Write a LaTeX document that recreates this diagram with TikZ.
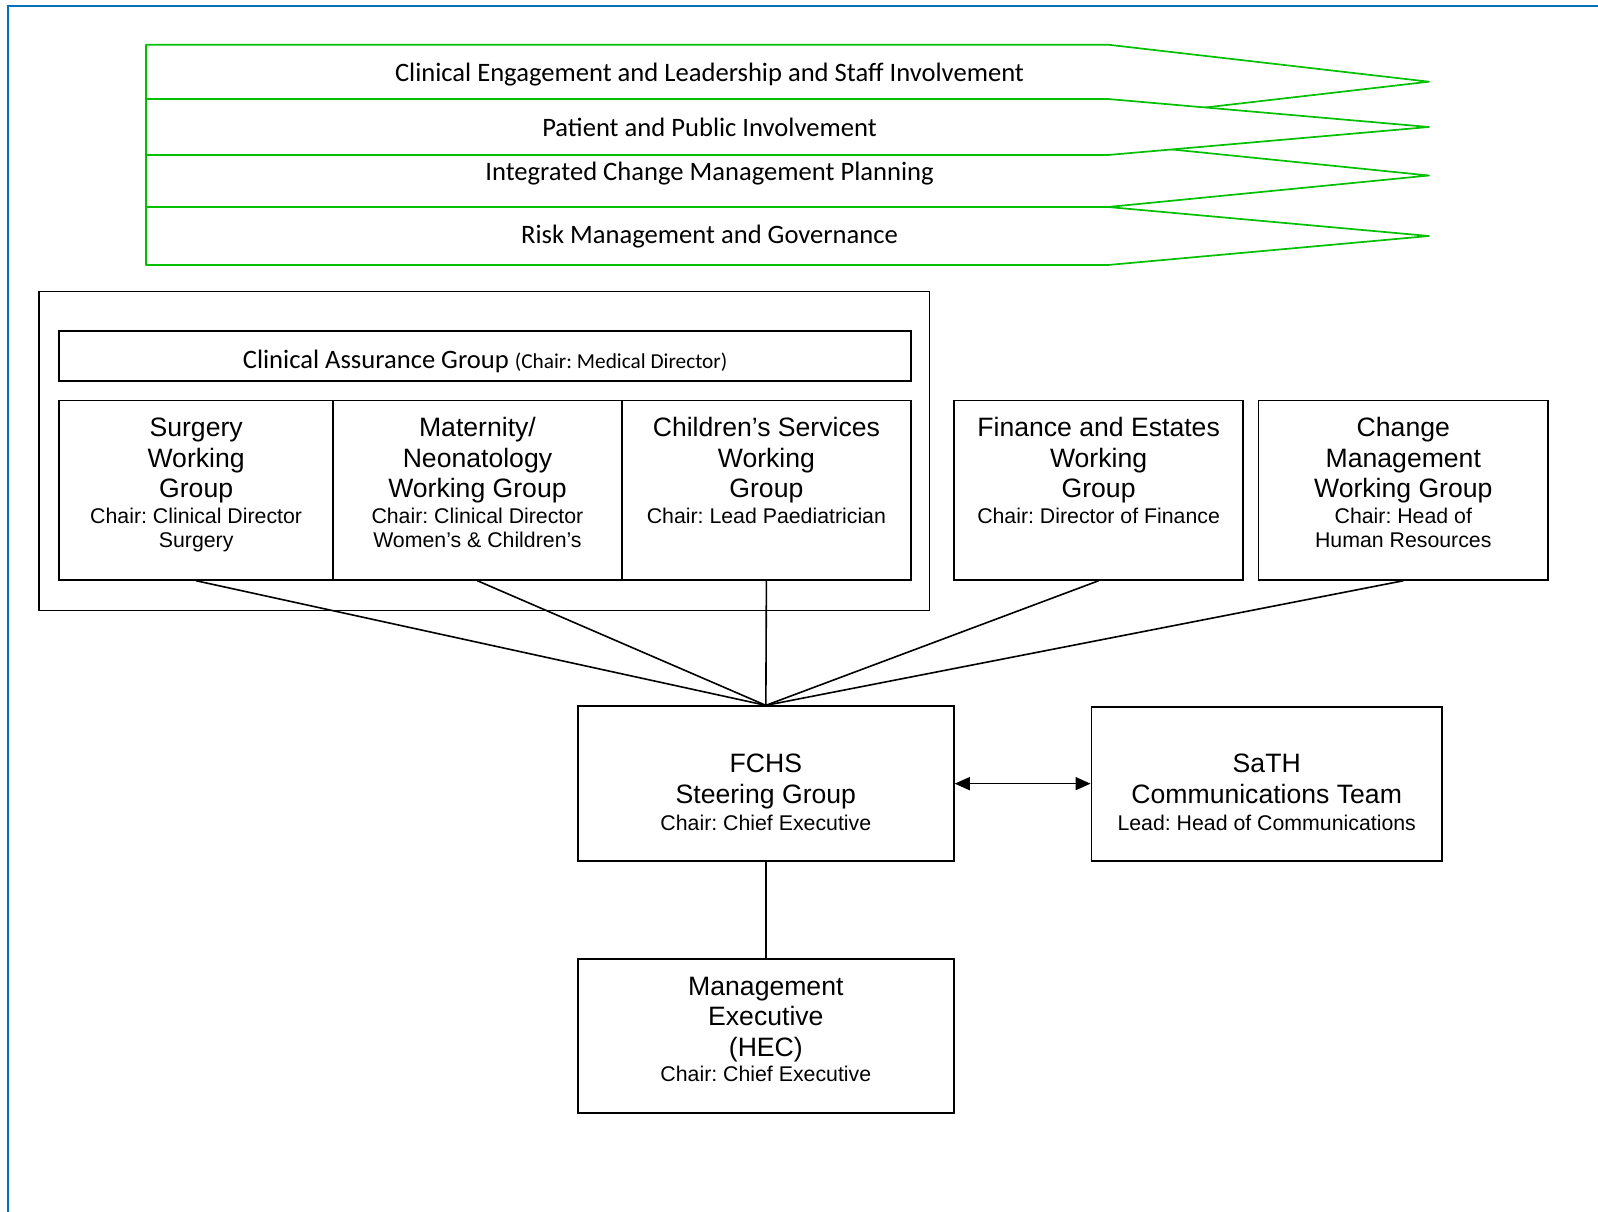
\documentclass[tikz,border=0pt]{standalone}
\usepackage{fontspec}
\setmainfont{Liberation Sans}
\newfontfamily\calfont{Carlito}
\usetikzlibrary{arrows.meta}
\frenchspacing
\definecolor{framebl}{RGB}{0,112,192}
\definecolor{arrgreen}{RGB}{0,192,0}
\newcommand\bigf{\fontsize{26.6}{30.6}\selectfont}
\newcommand\smf{\fontsize{21.3}{24.5}\selectfont}
\newcommand\Ln[5]{\node[anchor=base,inner sep=0pt,#4] (#1) at (#2,#3) {#5};}
\tikzset{
  frameline/.style={draw=framebl,line width=2pt},
  banner/.style={draw=arrgreen,fill=white,line width=1.7pt,line join=round},
  wbox/.style={draw=black,line width=1.7pt,inner sep=0pt,rectangle},
  conn/.style={draw=black,line width=1.6pt},
  bigtxt/.style={font=\bigf},
  smtxt/.style={font=\smf},
  caltxt/.style={font=\calfont\bigf},
}
\begin{document}
\begin{tikzpicture}[x=1pt,y=-1pt]
\useasboundingbox (0,0) rectangle (1598,1212);
% blue frame (top and left edges)
\draw[frameline] (8,1212) -- (8,6) -- (1598,6);
% green banners (z-order: 1,3,4,2)
\draw[banner] (146,44.7) -- (1108,44.7) -- (1429,81.7) -- (1108,118.7) -- (146,118.7) -- cycle;
\draw[banner] (146,143) -- (1108,143) -- (1429,175.5) -- (1108,207) -- (146,207) -- cycle;
\draw[banner] (146,207) -- (1108,207) -- (1429,236) -- (1108,265) -- (146,265) -- cycle;
\draw[banner] (146,99) -- (1108,99) -- (1429,127) -- (1108,155) -- (146,155) -- cycle;
\Ln{g1}{709.5}{82}{caltxt}{Clinical Engagement and Leadership and Staff Involvement}
\Ln{g2}{709.5}{136}{caltxt}{Patient and Public Involvement}
\Ln{g3}{709.5}{180}{caltxt}{Integrated Change Management Planning}
\Ln{g4}{709.5}{243}{caltxt}{Risk Management and Governance}
% clinical group container
\node[wbox,minimum width=890.7pt,minimum height=318.9pt] (cwg) at (484.05,450.95) {};
\node[wbox,minimum width=852pt,minimum height=49.9pt] (cag) at (485.1,356.15) {};
\Ln{cagt}{485.1}{368}{caltxt}{Clinical Assurance Group {\fontsize{21.3}{24.5}\selectfont(Chair: Medical Director)}}
% working group boxes
\node[wbox,minimum width=274.1pt,minimum height=179.4pt] (surg) at (196.15,490.2) {};
\node[wbox,minimum width=288.5pt,minimum height=179.4pt] (mat) at (477.45,490.2) {};
\node[wbox,minimum width=289.4pt,minimum height=179.4pt] (child) at (766.4,490.2) {};
\node[wbox,minimum width=289.4pt,minimum height=179.4pt] (fin) at (1098.6,490.2) {};
\node[wbox,minimum width=289.4pt,minimum height=179.4pt] (chg) at (1403.3,490.2) {};
% surgery text
\Ln{s1}{196.15}{436.5}{bigtxt}{Surgery}
\Ln{s2}{196.15}{467}{bigtxt}{Working}
\Ln{s3}{196.15}{497.5}{bigtxt}{Group}
\Ln{s4}{196.15}{523}{smtxt}{Chair: Clinical Director}
\Ln{s5}{196.15}{547.7}{smtxt}{Surgery}
% maternity text
\Ln{m1}{477.45}{436.5}{bigtxt}{Maternity/}
\Ln{m2}{477.45}{467}{bigtxt}{Neonatology}
\Ln{m3}{477.45}{497.5}{bigtxt}{Working Group}
\Ln{m4}{477.45}{523}{smtxt}{Chair: Clinical Director}
\Ln{m5}{477.45}{547.7}{smtxt}{Women’s \& Children’s}
% children's text
\Ln{c1}{766.4}{436.5}{bigtxt}{Children’s Services}
\Ln{c2}{766.4}{467}{bigtxt}{Working}
\Ln{c3}{766.4}{497.5}{bigtxt}{Group}
\Ln{c4}{766.4}{523}{smtxt}{Chair: Lead Paediatrician}
% finance text
\Ln{f1}{1098.6}{436.5}{bigtxt}{Finance and Estates}
\Ln{f2}{1098.6}{467}{bigtxt}{Working}
\Ln{f3}{1098.6}{497.5}{bigtxt}{Group}
\Ln{f4}{1098.6}{523}{smtxt}{Chair: Director of Finance}
% change text
\Ln{h1}{1403.3}{436.5}{bigtxt}{Change}
\Ln{h2}{1403.3}{467}{bigtxt}{Management}
\Ln{h3}{1403.3}{497.5}{bigtxt}{Working Group}
\Ln{h4}{1403.3}{523}{smtxt}{Chair: Head of}
\Ln{h5}{1403.3}{547.7}{smtxt}{Human Resources}
% steering, comms, management
\node[wbox,minimum width=376.1pt,minimum height=154.9pt] (fchs) at (765.85,783.65) {};
\node[wbox,minimum width=350.6pt,minimum height=153.9pt] (sath) at (1266.7,784.15) {};
\node[wbox,minimum width=376.1pt,minimum height=153.8pt] (mgmt) at (765.85,1035.9) {};
\Ln{fc1}{765.85}{772.8}{bigtxt}{FCHS}
\Ln{fc2}{765.85}{803.4}{bigtxt}{Steering Group}
\Ln{fc3}{765.85}{830}{smtxt}{Chair: Chief Executive}
\Ln{sa1}{1266.7}{772.8}{bigtxt}{SaTH}
\Ln{sa2}{1266.7}{803.4}{bigtxt}{Communications Team}
\Ln{sa3}{1266.7}{830}{smtxt}{Lead: Head of Communications}
\Ln{me1}{765.85}{995}{bigtxt}{Management}
\Ln{me2}{765.85}{1025.6}{bigtxt}{Executive}
\Ln{me3}{765.85}{1056.2}{bigtxt}{(HEC)}
\Ln{me4}{765.85}{1081.6}{smtxt}{Chair: Chief Executive}
% connectors
\draw[conn] (surg.south) -- (fchs.north);
\draw[conn] (mat.south) -- (fchs.north);
\draw[conn] (child.south) -- (fchs.north);
\draw[conn] (fin.south) -- (fchs.north);
\draw[conn] (chg.south) -- (fchs.north);
\draw[conn] (fchs.south) -- (mgmt.north);
\draw[conn,{Triangle[length=15pt,width=13pt]}-{Triangle[length=15pt,width=13pt]}] (fchs.east) -- (fchs.east -| sath.west);
\end{tikzpicture}
\end{document}
